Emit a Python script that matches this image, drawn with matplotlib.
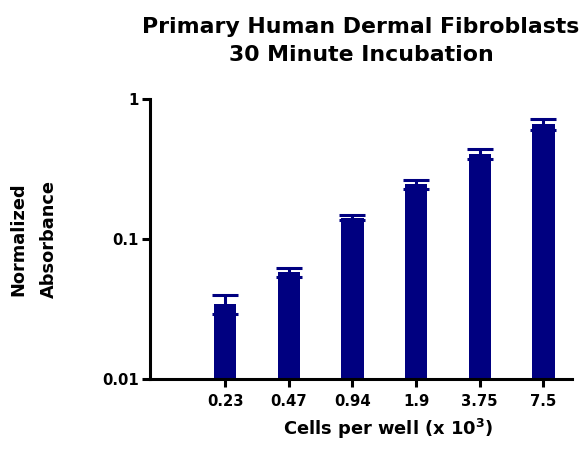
import matplotlib
matplotlib.use("Agg")
import matplotlib.pyplot as plt
from matplotlib.ticker import FixedLocator, NullLocator

plt.rcParams['font.family'] = ['DejaVu Sans']
plt.rcParams['font.weight'] = 'bold'
plt.rcParams['mathtext.fontset'] = 'dejavusans'
plt.rcParams['mathtext.default'] = 'bf'

# data
cells = ["0.23", "0.47", "0.94", "1.9", "3.75", "7.5"]
absorbance = [0.0343, 0.0578, 0.142, 0.246, 0.405, 0.659]
sd = [0.0053, 0.0040, 0.0053, 0.018, 0.031, 0.062]

navy = '#000080'
lw = 2.2

fig = plt.figure(figsize=(5.88, 4.53), dpi=100)
ax = fig.add_axes([0.2551, 0.1634, 0.7177, 0.6181])

x = list(range(len(cells)))
ax.bar(x, absorbance, width=0.35, color=navy, zorder=2)
ax.errorbar(x, absorbance, yerr=sd, fmt='none', ecolor=navy,
            elinewidth=lw, capsize=9.2, capthick=lw, zorder=3)

ax.set_yscale('log')
ax.set_ylim(0.01, 1)
ax.set_xlim(-1.18, 5.45)
ax.yaxis.set_major_locator(FixedLocator([0.01, 0.1, 1]))
ax.yaxis.set_minor_locator(NullLocator())
ax.set_yticklabels(["0.01", "0.1", "1"])
ax.set_xticks(x)
ax.set_xticklabels(cells)

for side in ['top', 'right']:
    ax.spines[side].set_visible(False)
for side in ['left', 'bottom']:
    ax.spines[side].set_linewidth(lw)
ax.tick_params(axis='both', length=6, width=lw, labelsize=10.7)
ax.tick_params(axis='x', pad=5)
ax.tick_params(axis='y', pad=2)

ax.set_title("Primary Human Dermal Fibroblasts\n30 Minute Incubation",
             fontsize=15.8, fontweight='bold', linespacing=1.55, pad=27)
ax.set_xlabel(r"Cells per well (x 10$^{3}$)", fontsize=12.9,
              fontweight='bold')
ax.xaxis.set_label_coords(0.564, -0.135)
ax.set_ylabel("Normalized\nAbsorbance", fontsize=12.8, fontweight='bold',
              linespacing=1.9)
ax.yaxis.set_label_coords(-0.218, 0.5)

fig.savefig("out.png", dpi=100)
